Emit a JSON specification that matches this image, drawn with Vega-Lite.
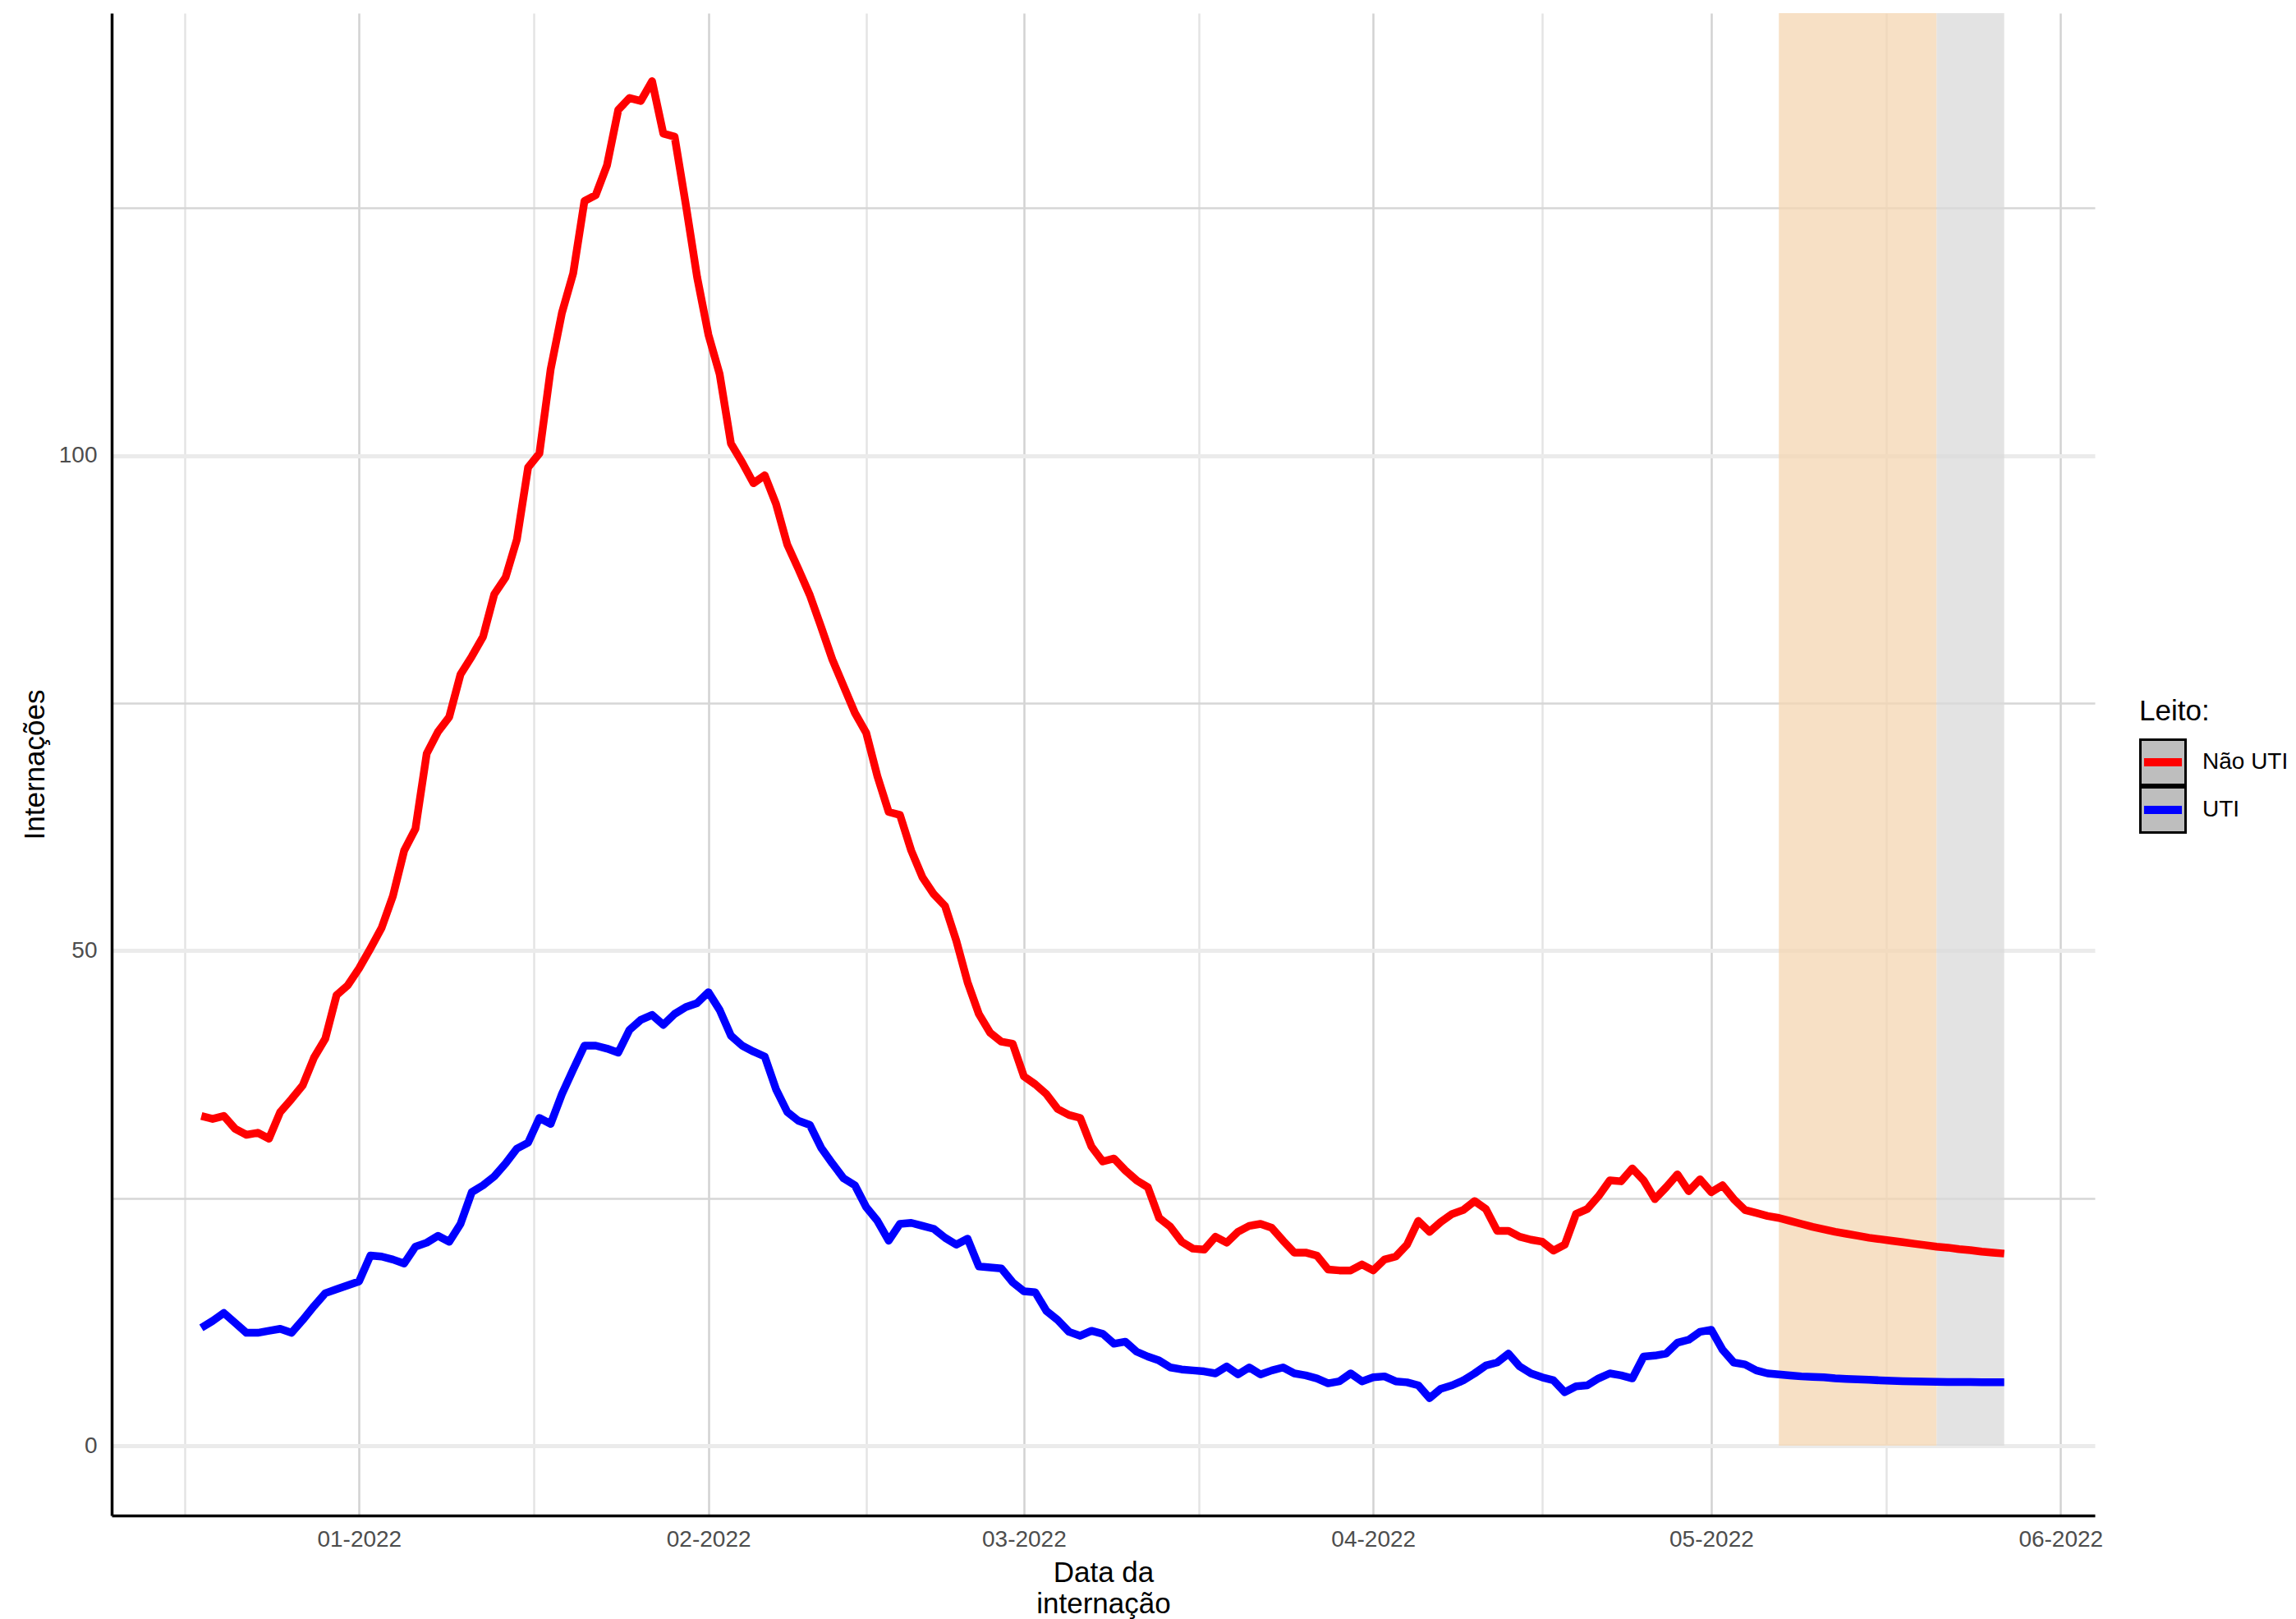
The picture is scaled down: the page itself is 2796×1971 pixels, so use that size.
{
  "$schema": "https://vega.github.io/schema/vega-lite/v6.json",
  "width": 2415,
  "height": 1829,
  "autosize": {"type": "none"},
  "padding": {"left": 136, "top": 16, "right": 245, "bottom": 126},
  "background": "white",
  "config": {"view": {"stroke": null}, "font": "Liberation Sans"},
  "datasets": {
    "faixas": [
      {"faixa": "a", "inicio": "2022-05-07", "fim": "2022-05-21"},
      {"faixa": "b", "inicio": "2022-05-21", "fim": "2022-05-27"}
    ],
    "series": [
      {"data":"2021-12-18","Não UTI":33.3,"UTI":11.9},
      {"data":"2021-12-19","Não UTI":33.0,"UTI":12.6},
      {"data":"2021-12-20","Não UTI":33.3,"UTI":13.4},
      {"data":"2021-12-21","Não UTI":32.0,"UTI":12.4},
      {"data":"2021-12-22","Não UTI":31.4,"UTI":11.4},
      {"data":"2021-12-23","Não UTI":31.6,"UTI":11.4},
      {"data":"2021-12-24","Não UTI":31.0,"UTI":11.6},
      {"data":"2021-12-25","Não UTI":33.7,"UTI":11.8},
      {"data":"2021-12-26","Não UTI":35.0,"UTI":11.4},
      {"data":"2021-12-27","Não UTI":36.4,"UTI":12.7},
      {"data":"2021-12-28","Não UTI":39.2,"UTI":14.1},
      {"data":"2021-12-29","Não UTI":41.1,"UTI":15.4},
      {"data":"2021-12-30","Não UTI":45.5,"UTI":15.8},
      {"data":"2021-12-31","Não UTI":46.5,"UTI":16.2},
      {"data":"2022-01-01","Não UTI":48.2,"UTI":16.6},
      {"data":"2022-01-02","Não UTI":50.2,"UTI":19.2},
      {"data":"2022-01-03","Não UTI":52.3,"UTI":19.1},
      {"data":"2022-01-04","Não UTI":55.5,"UTI":18.8},
      {"data":"2022-01-05","Não UTI":60.1,"UTI":18.4},
      {"data":"2022-01-06","Não UTI":62.3,"UTI":20.1},
      {"data":"2022-01-07","Não UTI":69.9,"UTI":20.5},
      {"data":"2022-01-08","Não UTI":72.1,"UTI":21.2},
      {"data":"2022-01-09","Não UTI":73.6,"UTI":20.6},
      {"data":"2022-01-10","Não UTI":77.9,"UTI":22.4},
      {"data":"2022-01-11","Não UTI":79.7,"UTI":25.6},
      {"data":"2022-01-12","Não UTI":81.7,"UTI":26.3},
      {"data":"2022-01-13","Não UTI":86.0,"UTI":27.2},
      {"data":"2022-01-14","Não UTI":87.7,"UTI":28.5},
      {"data":"2022-01-15","Não UTI":91.5,"UTI":30.0},
      {"data":"2022-01-16","Não UTI":98.8,"UTI":30.6},
      {"data":"2022-01-17","Não UTI":100.2,"UTI":33.1},
      {"data":"2022-01-18","Não UTI":108.7,"UTI":32.5},
      {"data":"2022-01-19","Não UTI":114.4,"UTI":35.5},
      {"data":"2022-01-20","Não UTI":118.4,"UTI":38.0},
      {"data":"2022-01-21","Não UTI":125.7,"UTI":40.4},
      {"data":"2022-01-22","Não UTI":126.3,"UTI":40.4},
      {"data":"2022-01-23","Não UTI":129.3,"UTI":40.1},
      {"data":"2022-01-24","Não UTI":134.9,"UTI":39.7},
      {"data":"2022-01-25","Não UTI":136.1,"UTI":42.0},
      {"data":"2022-01-26","Não UTI":135.8,"UTI":43.0},
      {"data":"2022-01-27","Não UTI":137.8,"UTI":43.5},
      {"data":"2022-01-28","Não UTI":132.5,"UTI":42.5},
      {"data":"2022-01-29","Não UTI":132.2,"UTI":43.6},
      {"data":"2022-01-30","Não UTI":125.3,"UTI":44.3},
      {"data":"2022-01-31","Não UTI":118.0,"UTI":44.7},
      {"data":"2022-02-01","Não UTI":112.2,"UTI":45.8},
      {"data":"2022-02-02","Não UTI":108.2,"UTI":44.0},
      {"data":"2022-02-03","Não UTI":101.2,"UTI":41.4},
      {"data":"2022-02-04","Não UTI":99.3,"UTI":40.4},
      {"data":"2022-02-05","Não UTI":97.2,"UTI":39.8},
      {"data":"2022-02-06","Não UTI":98.0,"UTI":39.3},
      {"data":"2022-02-07","Não UTI":95.1,"UTI":36.0},
      {"data":"2022-02-08","Não UTI":91.0,"UTI":33.7},
      {"data":"2022-02-09","Não UTI":88.5,"UTI":32.8},
      {"data":"2022-02-10","Não UTI":85.9,"UTI":32.4},
      {"data":"2022-02-11","Não UTI":82.7,"UTI":30.1},
      {"data":"2022-02-12","Não UTI":79.4,"UTI":28.5},
      {"data":"2022-02-13","Não UTI":76.7,"UTI":27.0},
      {"data":"2022-02-14","Não UTI":74.0,"UTI":26.3},
      {"data":"2022-02-15","Não UTI":72.0,"UTI":24.1},
      {"data":"2022-02-16","Não UTI":67.6,"UTI":22.7},
      {"data":"2022-02-17","Não UTI":64.0,"UTI":20.7},
      {"data":"2022-02-18","Não UTI":63.7,"UTI":22.4},
      {"data":"2022-02-19","Não UTI":60.1,"UTI":22.5},
      {"data":"2022-02-20","Não UTI":57.4,"UTI":22.2},
      {"data":"2022-02-21","Não UTI":55.7,"UTI":21.9},
      {"data":"2022-02-22","Não UTI":54.5,"UTI":21.0},
      {"data":"2022-02-23","Não UTI":51.0,"UTI":20.3},
      {"data":"2022-02-24","Não UTI":46.8,"UTI":20.9},
      {"data":"2022-02-25","Não UTI":43.6,"UTI":18.1},
      {"data":"2022-02-26","Não UTI":41.7,"UTI":18.0},
      {"data":"2022-02-27","Não UTI":40.8,"UTI":17.9},
      {"data":"2022-02-28","Não UTI":40.6,"UTI":16.5},
      {"data":"2022-03-01","Não UTI":37.3,"UTI":15.6},
      {"data":"2022-03-02","Não UTI":36.5,"UTI":15.5},
      {"data":"2022-03-03","Não UTI":35.5,"UTI":13.6},
      {"data":"2022-03-04","Não UTI":34.0,"UTI":12.7},
      {"data":"2022-03-05","Não UTI":33.4,"UTI":11.5},
      {"data":"2022-03-06","Não UTI":33.1,"UTI":11.1},
      {"data":"2022-03-07","Não UTI":30.2,"UTI":11.6},
      {"data":"2022-03-08","Não UTI":28.7,"UTI":11.3},
      {"data":"2022-03-09","Não UTI":29.0,"UTI":10.3},
      {"data":"2022-03-10","Não UTI":27.8,"UTI":10.5},
      {"data":"2022-03-11","Não UTI":26.8,"UTI":9.5},
      {"data":"2022-03-12","Não UTI":26.1,"UTI":9.0},
      {"data":"2022-03-13","Não UTI":23.0,"UTI":8.6},
      {"data":"2022-03-14","Não UTI":22.1,"UTI":7.9},
      {"data":"2022-03-15","Não UTI":20.6,"UTI":7.7},
      {"data":"2022-03-16","Não UTI":19.9,"UTI":7.6},
      {"data":"2022-03-17","Não UTI":19.8,"UTI":7.5},
      {"data":"2022-03-18","Não UTI":21.1,"UTI":7.3},
      {"data":"2022-03-19","Não UTI":20.5,"UTI":8.0},
      {"data":"2022-03-20","Não UTI":21.6,"UTI":7.2},
      {"data":"2022-03-21","Não UTI":22.2,"UTI":7.9},
      {"data":"2022-03-22","Não UTI":22.4,"UTI":7.2},
      {"data":"2022-03-23","Não UTI":22.0,"UTI":7.6},
      {"data":"2022-03-24","Não UTI":20.7,"UTI":7.9},
      {"data":"2022-03-25","Não UTI":19.5,"UTI":7.3},
      {"data":"2022-03-26","Não UTI":19.5,"UTI":7.1},
      {"data":"2022-03-27","Não UTI":19.2,"UTI":6.8},
      {"data":"2022-03-28","Não UTI":17.8,"UTI":6.3},
      {"data":"2022-03-29","Não UTI":17.7,"UTI":6.5},
      {"data":"2022-03-30","Não UTI":17.7,"UTI":7.3},
      {"data":"2022-03-31","Não UTI":18.3,"UTI":6.5},
      {"data":"2022-04-01","Não UTI":17.7,"UTI":6.9},
      {"data":"2022-04-02","Não UTI":18.8,"UTI":7.0},
      {"data":"2022-04-03","Não UTI":19.1,"UTI":6.5},
      {"data":"2022-04-04","Não UTI":20.3,"UTI":6.4},
      {"data":"2022-04-05","Não UTI":22.7,"UTI":6.1},
      {"data":"2022-04-06","Não UTI":21.6,"UTI":4.8},
      {"data":"2022-04-07","Não UTI":22.6,"UTI":5.75},
      {"data":"2022-04-08","Não UTI":23.4,"UTI":6.1},
      {"data":"2022-04-09","Não UTI":23.8,"UTI":6.6},
      {"data":"2022-04-10","Não UTI":24.7,"UTI":7.3},
      {"data":"2022-04-11","Não UTI":23.9,"UTI":8.1},
      {"data":"2022-04-12","Não UTI":21.7,"UTI":8.4},
      {"data":"2022-04-13","Não UTI":21.7,"UTI":9.3},
      {"data":"2022-04-14","Não UTI":21.1,"UTI":8.0},
      {"data":"2022-04-15","Não UTI":20.8,"UTI":7.3},
      {"data":"2022-04-16","Não UTI":20.6,"UTI":6.9},
      {"data":"2022-04-17","Não UTI":19.7,"UTI":6.6},
      {"data":"2022-04-18","Não UTI":20.3,"UTI":5.4},
      {"data":"2022-04-19","Não UTI":23.4,"UTI":6.0},
      {"data":"2022-04-20","Não UTI":23.9,"UTI":6.1},
      {"data":"2022-04-21","Não UTI":25.2,"UTI":6.8},
      {"data":"2022-04-22","Não UTI":26.8,"UTI":7.3},
      {"data":"2022-04-23","Não UTI":26.7,"UTI":7.1},
      {"data":"2022-04-24","Não UTI":28.0,"UTI":6.8},
      {"data":"2022-04-25","Não UTI":26.8,"UTI":9.0},
      {"data":"2022-04-26","Não UTI":24.9,"UTI":9.1},
      {"data":"2022-04-27","Não UTI":26.1,"UTI":9.3},
      {"data":"2022-04-28","Não UTI":27.4,"UTI":10.4},
      {"data":"2022-04-29","Não UTI":25.7,"UTI":10.7},
      {"data":"2022-04-30","Não UTI":26.9,"UTI":11.5},
      {"data":"2022-05-01","Não UTI":25.6,"UTI":11.7},
      {"data":"2022-05-02","Não UTI":26.3,"UTI":9.7},
      {"data":"2022-05-03","Não UTI":24.9,"UTI":8.4},
      {"data":"2022-05-04","Não UTI":23.8,"UTI":8.2},
      {"data":"2022-05-05","Não UTI":23.5,"UTI":7.6},
      {"data":"2022-05-06","Não UTI":23.2,"UTI":7.3},
      {"data":"2022-05-07","Não UTI":23.0,"UTI":7.2},
      {"data":"2022-05-08","Não UTI":22.7,"UTI":7.1},
      {"data":"2022-05-09","Não UTI":22.4,"UTI":7.0},
      {"data":"2022-05-10","Não UTI":22.1,"UTI":6.95},
      {"data":"2022-05-11","Não UTI":21.85,"UTI":6.9},
      {"data":"2022-05-12","Não UTI":21.6,"UTI":6.8},
      {"data":"2022-05-13","Não UTI":21.4,"UTI":6.75},
      {"data":"2022-05-14","Não UTI":21.2,"UTI":6.7},
      {"data":"2022-05-15","Não UTI":21.0,"UTI":6.65},
      {"data":"2022-05-16","Não UTI":20.85,"UTI":6.6},
      {"data":"2022-05-17","Não UTI":20.7,"UTI":6.55},
      {"data":"2022-05-18","Não UTI":20.55,"UTI":6.52},
      {"data":"2022-05-19","Não UTI":20.4,"UTI":6.5},
      {"data":"2022-05-20","Não UTI":20.25,"UTI":6.48},
      {"data":"2022-05-21","Não UTI":20.1,"UTI":6.46},
      {"data":"2022-05-22","Não UTI":20.0,"UTI":6.44},
      {"data":"2022-05-23","Não UTI":19.85,"UTI":6.43},
      {"data":"2022-05-24","Não UTI":19.75,"UTI":6.42},
      {"data":"2022-05-25","Não UTI":19.6,"UTI":6.41},
      {"data":"2022-05-26","Não UTI":19.5,"UTI":6.4},
      {"data":"2022-05-27","Não UTI":19.4,"UTI":6.4}
    ]
  },
  "layer": [
    {
      "data": {"name": "faixas"},
      "mark": {"type": "rect", "opacity": 0.75, "strokeWidth": 0},
      "encoding": {
        "x": {
          "field": "inicio", "type": "temporal",
          "scale": {"type": "utc", "domain": [{"year": 2021, "month": 12, "date": 10, "hours": 1, "utc": true}, {"year": 2022, "month": 6, "date": 4, "hours": 1, "utc": true}]}
        },
        "x2": {"field": "fim"},
        "y": {
          "datum": 0, "type": "quantitative",
          "scale": {"domain": [-7.05, 144.67], "nice": false, "zero": false}
        },
        "y2": {"datum": 144.67},
        "fill": {
          "field": "faixa", "type": "nominal",
          "scale": {"domain": ["a", "b"], "range": ["#f4d6b2", "#dadada"]},
          "legend": null
        },
        "stroke": {
          "field": "faixa", "type": "nominal",
          "scale": {"domain": ["b", "a"], "range": ["#000000", "#000000"]},
          "legend": {
            "title": "Leito:",
            "orient": "none",
            "legendX": 2469,
            "legendY": 833,
            "padding": 0,
            "zindex": 1,
            "titleFont": "Liberation Sans",
            "titleFontSize": 35,
            "titleFontWeight": "normal",
            "titleColor": "#000000",
            "titleOpacity": 0,
            "titlePadding": 15,
            "labelFont": "Liberation Sans",
            "labelFontSize": 28,
            "labelOpacity": 0,
            "labelExpr": "''",
            "labelOffset": 19,
            "symbolType": "square",
            "symbolSize": 3025,
            "symbolStrokeWidth": 3,
            "symbolOffset": 0,
            "symbolOpacity": 1,
            "symbolFillColor": "#bebebe",
            "symbolStrokeColor": "#000000",
            "clipHeight": 58,
            "rowPadding": 0,
            "encode": {
              "symbols": {
                "update": {
                  "fill": {"value": "#bebebe"},
                  "fillOpacity": {"value": 1},
                  "stroke": {"value": "#000000"},
                  "strokeOpacity": {"value": 1},
                  "strokeWidth": {"value": 3},
                  "opacity": {"value": 1}
                }
              }
            }
          }
        }
      }
    },
    {
      "data": {"name": "series"},
      "transform": [{"fold": ["Não UTI", "UTI"], "as": ["Leito", "valor"]}],
      "mark": {"type": "line", "strokeWidth": 9.5, "strokeJoin": "round"},
      "encoding": {
        "x": {
          "field": "data", "type": "temporal",
          "scale": {"type": "utc", "domain": [{"year": 2021, "month": 12, "date": 10, "hours": 1, "utc": true}, {"year": 2022, "month": 6, "date": 4, "hours": 1, "utc": true}]},
          "axis": {
            "title": ["Data da", "internação"],
            "values": [
              {"year": 2021, "month": 12, "date": 16, "hours": 12, "utc": true},
              {"year": 2022, "month": 1, "date": 1, "utc": true},
              {"year": 2022, "month": 1, "date": 16, "hours": 12, "utc": true},
              {"year": 2022, "month": 2, "date": 1, "utc": true},
              {"year": 2022, "month": 2, "date": 15, "utc": true},
              {"year": 2022, "month": 3, "date": 1, "utc": true},
              {"year": 2022, "month": 3, "date": 16, "hours": 12, "utc": true},
              {"year": 2022, "month": 4, "date": 1, "utc": true},
              {"year": 2022, "month": 4, "date": 16, "utc": true},
              {"year": 2022, "month": 5, "date": 1, "utc": true},
              {"year": 2022, "month": 5, "date": 16, "hours": 12, "utc": true},
              {"year": 2022, "month": 6, "date": 1, "utc": true}
            ],
            "labelExpr": "utcdate(datum.value) == 1 && utchours(datum.value) == 0 ? utcFormat(datum.value, '%m-%Y') : ''",
            "grid": true,
            "gridColor": {"condition": {"test": "utcdate(datum.value) == 1 && utchours(datum.value) == 0", "value": "#d2d2d2"}, "value": "#e4e4e4"},
            "gridWidth": 2.5,
            "ticks": false,
            "tickSize": 0,
            "domain": true,
            "domainColor": "#000000",
            "domainWidth": 3.5,
            "labelFont": "Liberation Sans",
            "labelFontSize": 28,
            "labelColor": "#4d4d4d",
            "labelPadding": 15,
            "labelFlush": false,
            "labelOverlap": false,
            "titleFont": "Liberation Sans",
            "titleFontSize": 35,
            "titleFontWeight": "normal",
            "titleColor": "#000000",
            "titlePadding": 9,
            "titleLineHeight": 38
          }
        },
        "y": {
          "field": "valor", "type": "quantitative",
          "scale": {"domain": [-7.05, 144.67], "nice": false, "zero": false},
          "axis": {
            "title": "Internações",
            "values": [0, 25, 50, 75, 100, 125],
            "labelExpr": "datum.value % 50 == 0 ? datum.label : ''",
            "grid": true,
            "gridColor": {"condition": {"test": "datum.value % 50 == 0", "value": "#ebebeb"}, "value": "#d6d6d6"},
            "gridWidth": {"condition": {"test": "datum.value % 50 == 0", "value": 5}, "value": 2.5},
            "ticks": false,
            "tickSize": 0,
            "domain": true,
            "domainColor": "#000000",
            "domainWidth": 3.5,
            "labelFont": "Liberation Sans",
            "labelFontSize": 28,
            "labelColor": "#4d4d4d",
            "labelPadding": 18,
            "labelOverlap": false,
            "titleFont": "Liberation Sans",
            "titleFontSize": 35,
            "titleFontWeight": "normal",
            "titleColor": "#000000",
            "titlePadding": 11
          }
        },
        "color": {
          "field": "Leito", "type": "nominal",
          "scale": {"domain": ["Não UTI", "UTI"], "range": ["#ff0000", "#0000ff"]},
          "legend": {
            "title": "Leito:",
            "orient": "none",
            "legendX": 2469,
            "legendY": 833,
            "padding": 0,
            "zindex": 2,
            "titleFont": "Liberation Sans",
            "titleFontSize": 35,
            "titleFontWeight": "normal",
            "titleColor": "#000000",
            "titlePadding": 15,
            "labelFont": "Liberation Sans",
            "labelFontSize": 28,
            "labelColor": "#000000",
            "labelOffset": 19,
            "symbolType": "M-0.96,0H0.96",
            "symbolSize": 2304,
            "symbolStrokeWidth": 10,
            "symbolOffset": 0,
            "clipHeight": 58,
            "rowPadding": 0
          }
        }
      }
    }
  ]
}
